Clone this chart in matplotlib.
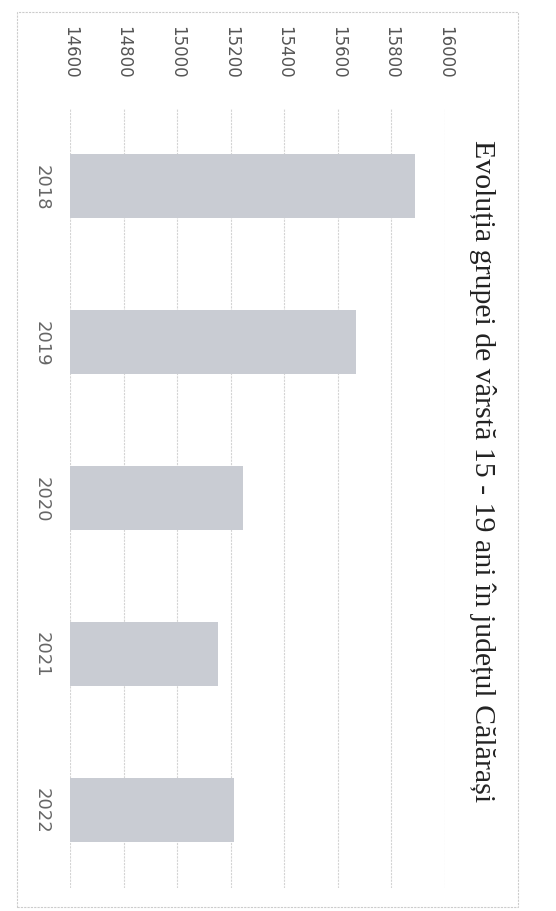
import matplotlib.pyplot as plt
from matplotlib.patches import Rectangle

years = ["2018", "2019", "2020", "2021", "2022"]
values = [15888, 15670, 15247, 15152, 15211]
ticks = [14600, 14800, 15000, 15200, 15400, 15600, 15800, 16000]
title = "Evoluția grupei de vârstă 15 - 19 ani în județul Călărași"

fig = plt.figure(figsize=(5.56, 9.12), dpi=100)
ax = fig.add_axes([0.126, 0.025, 0.674, 0.855])

# the page is scanned sideways: bars run left to right, text turned 90 deg
pos = list(range(len(years)))
ax.barh(pos, [v - ticks[0] for v in values], left=ticks[0], height=0.41,
        color="#c9ccd3", zorder=2)
ax.set_xlim(ticks[0], ticks[-1])
ax.set_ylim(len(years) - 0.5, -0.5)

ax.set_xticks(ticks)
ax.set_xticklabels([str(t) for t in ticks], rotation=-90, fontsize=12,
                   color="#555555")
ax.xaxis.tick_top()
ax.set_yticks(pos)
ax.set_yticklabels(years, rotation=-90, fontsize=13, color="#666666",
                   va="center")
ax.tick_params(axis="x", length=0, pad=22)
ax.tick_params(axis="y", length=0, pad=14)
ax.grid(axis="x", color="#d4d4d4", linewidth=0.8, linestyle=(0, (2, 1)), zorder=0)
for s in ax.spines.values():
    s.set_visible(False)

fig.text(0.867, 0.484, title, rotation=-90, ha="center", va="center",
         fontsize=21.5, family="Liberation Serif", color="#222222")

fig.patches.append(Rectangle((0.031, 0.004), 0.90, 0.982, transform=fig.transFigure,
                             fill=False, edgecolor="#cccccc", linewidth=0.8,
                             linestyle=(0, (2, 1))))

fig.savefig("out.png", dpi=100)
